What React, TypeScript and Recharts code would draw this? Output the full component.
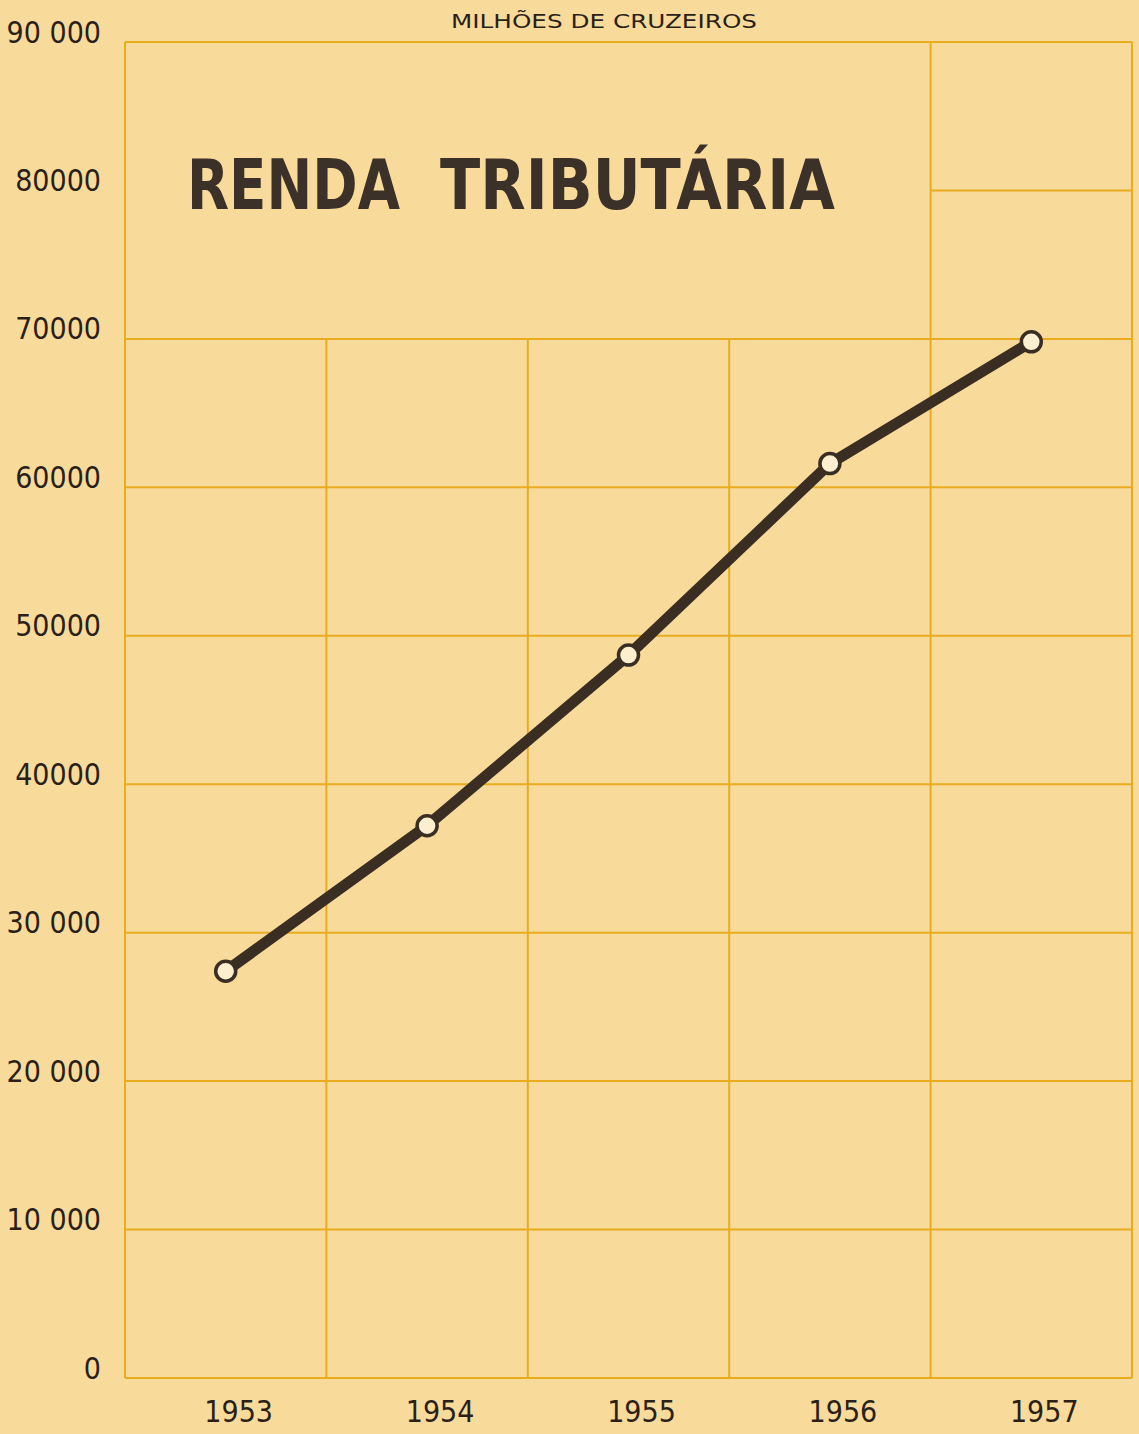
import React from "react";
import { LineChart, Line, XAxis, YAxis, ReferenceLine } from "recharts";

const years = ["1953", "1954", "1955", "1956", "1957"];
const renda = [27400, 37200, 48700, 61600, 69800];

const yTicks = [0, 10000, 20000, 30000, 40000, 50000, 60000, 70000, 80000, 90000];
const yTickLabels = ["0", "10 000", "20 000", "30 000", "40000", "50000", "60000", "70000", "80000", "90 000"];

// grid rows/columns (data space); upper-left block is left blank for the title
const fullRows = [0, 10000, 20000, 30000, 40000, 50000, 60000, 70000, 90000];
const shortRows = [80000];
const fullCols = [-0.5, 3.5, 4.5];
const shortCols = [0.5, 1.5, 2.5];

const TITLE_WORDS = ["RENDA", "TRIBUTÁRIA"];
const UNIT = "MILHÕES  DE  CRUZEIROS";

const BG = "#f8db9b";
const GRID = "#e8ac1e";
const INK = "#3a2d22";
const TEXT = "#2b1f18";
const FONT = "'DejaVu Sans Condensed', 'DejaVu Sans', sans-serif";

const data = years.map((year, i) => ({ idx: i, year, renda: renda[i] }));

function YTick({ x, y, payload }: any) {
  const i = yTicks.indexOf(payload.value);
  return (
    <text
      x={x}
      y={y}
      dy={-10}
      textAnchor="end"
      dominantBaseline="central"
      fontFamily={FONT}
      fontSize={30}
      fill={TEXT}
    >
      {yTickLabels[i]}
    </text>
  );
}

function XTick({ x, y, payload }: any) {
  return (
    <text
      x={x + 13}
      y={y + 33}
      textAnchor="middle"
      dominantBaseline="central"
      fontFamily={FONT}
      fontSize={30}
      fill={TEXT}
    >
      {years[payload.value]}
    </text>
  );
}

export default function App() {
  return (
    <div
      style={{
        position: "absolute",
        left: 0,
        top: 0,
        width: 1139,
        height: 1434,
        background: BG,
        overflow: "hidden",
      }}
    >
      <LineChart
        width={1139}
        height={1434}
        data={data}
        margin={{ top: 42, right: 7, left: 0, bottom: 0 }}
      >
        <XAxis
          type="number"
          dataKey="idx"
          domain={[-0.5, 4.5]}
          ticks={[0, 1, 2, 3, 4]}
          height={56}
          axisLine={false}
          tickLine={false}
          tickSize={0}
          tickMargin={0}
          tick={<XTick />}
        />
        <YAxis
          domain={[0, 90000]}
          ticks={yTicks}
          width={125}
          axisLine={false}
          tickLine={false}
          tickSize={0}
          tickMargin={24}
          tick={<YTick />}
        />
        {fullRows.map((v) => (
          <ReferenceLine
            key={"r" + v}
            segment={[{ x: -0.5, y: v }, { x: 4.5, y: v }]}
            stroke={GRID}
            strokeWidth={2}
          />
        ))}
        {shortRows.map((v) => (
          <ReferenceLine
            key={"s" + v}
            segment={[{ x: 3.5, y: v }, { x: 4.5, y: v }]}
            stroke={GRID}
            strokeWidth={2}
          />
        ))}
        {fullCols.map((c) => (
          <ReferenceLine
            key={"c" + c}
            segment={[{ x: c, y: 0 }, { x: c, y: 90000 }]}
            stroke={GRID}
            strokeWidth={2}
          />
        ))}
        {shortCols.map((c) => (
          <ReferenceLine
            key={"d" + c}
            segment={[{ x: c, y: 0 }, { x: c, y: 70000 }]}
            stroke={GRID}
            strokeWidth={2}
          />
        ))}
        <Line
          type="linear"
          dataKey="renda"
          stroke={INK}
          strokeWidth={11}
          dot={{ r: 10, fill: "#fcefd0", stroke: INK, strokeWidth: 3.5 }}
          activeDot={false}
          isAnimationActive={false}
        />
      </LineChart>
      <svg
        width={1139}
        height={240}
        style={{ position: "absolute", left: 0, top: 0, pointerEvents: "none" }}
      >
        <text
          x={451}
          y={28}
          textLength={306}
          lengthAdjust="spacingAndGlyphs"
          fontFamily="'DejaVu Sans', sans-serif"
          fontSize={20}
          fill={TEXT}
        >
          {UNIT}
        </text>
        <text
          x={187}
          y={209}
          textLength={213}
          lengthAdjust="spacingAndGlyphs"
          fontFamily="'DejaVu Sans', sans-serif"
          fontWeight="bold"
          fontSize={70}
          fill="#3c3128"
        >
          {TITLE_WORDS[0]}
        </text>
        <text
          x={440}
          y={209}
          textLength={395}
          lengthAdjust="spacingAndGlyphs"
          fontFamily="'DejaVu Sans', sans-serif"
          fontWeight="bold"
          fontSize={70}
          fill="#3c3128"
        >
          {TITLE_WORDS[1]}
        </text>
      </svg>
    </div>
  );
}
